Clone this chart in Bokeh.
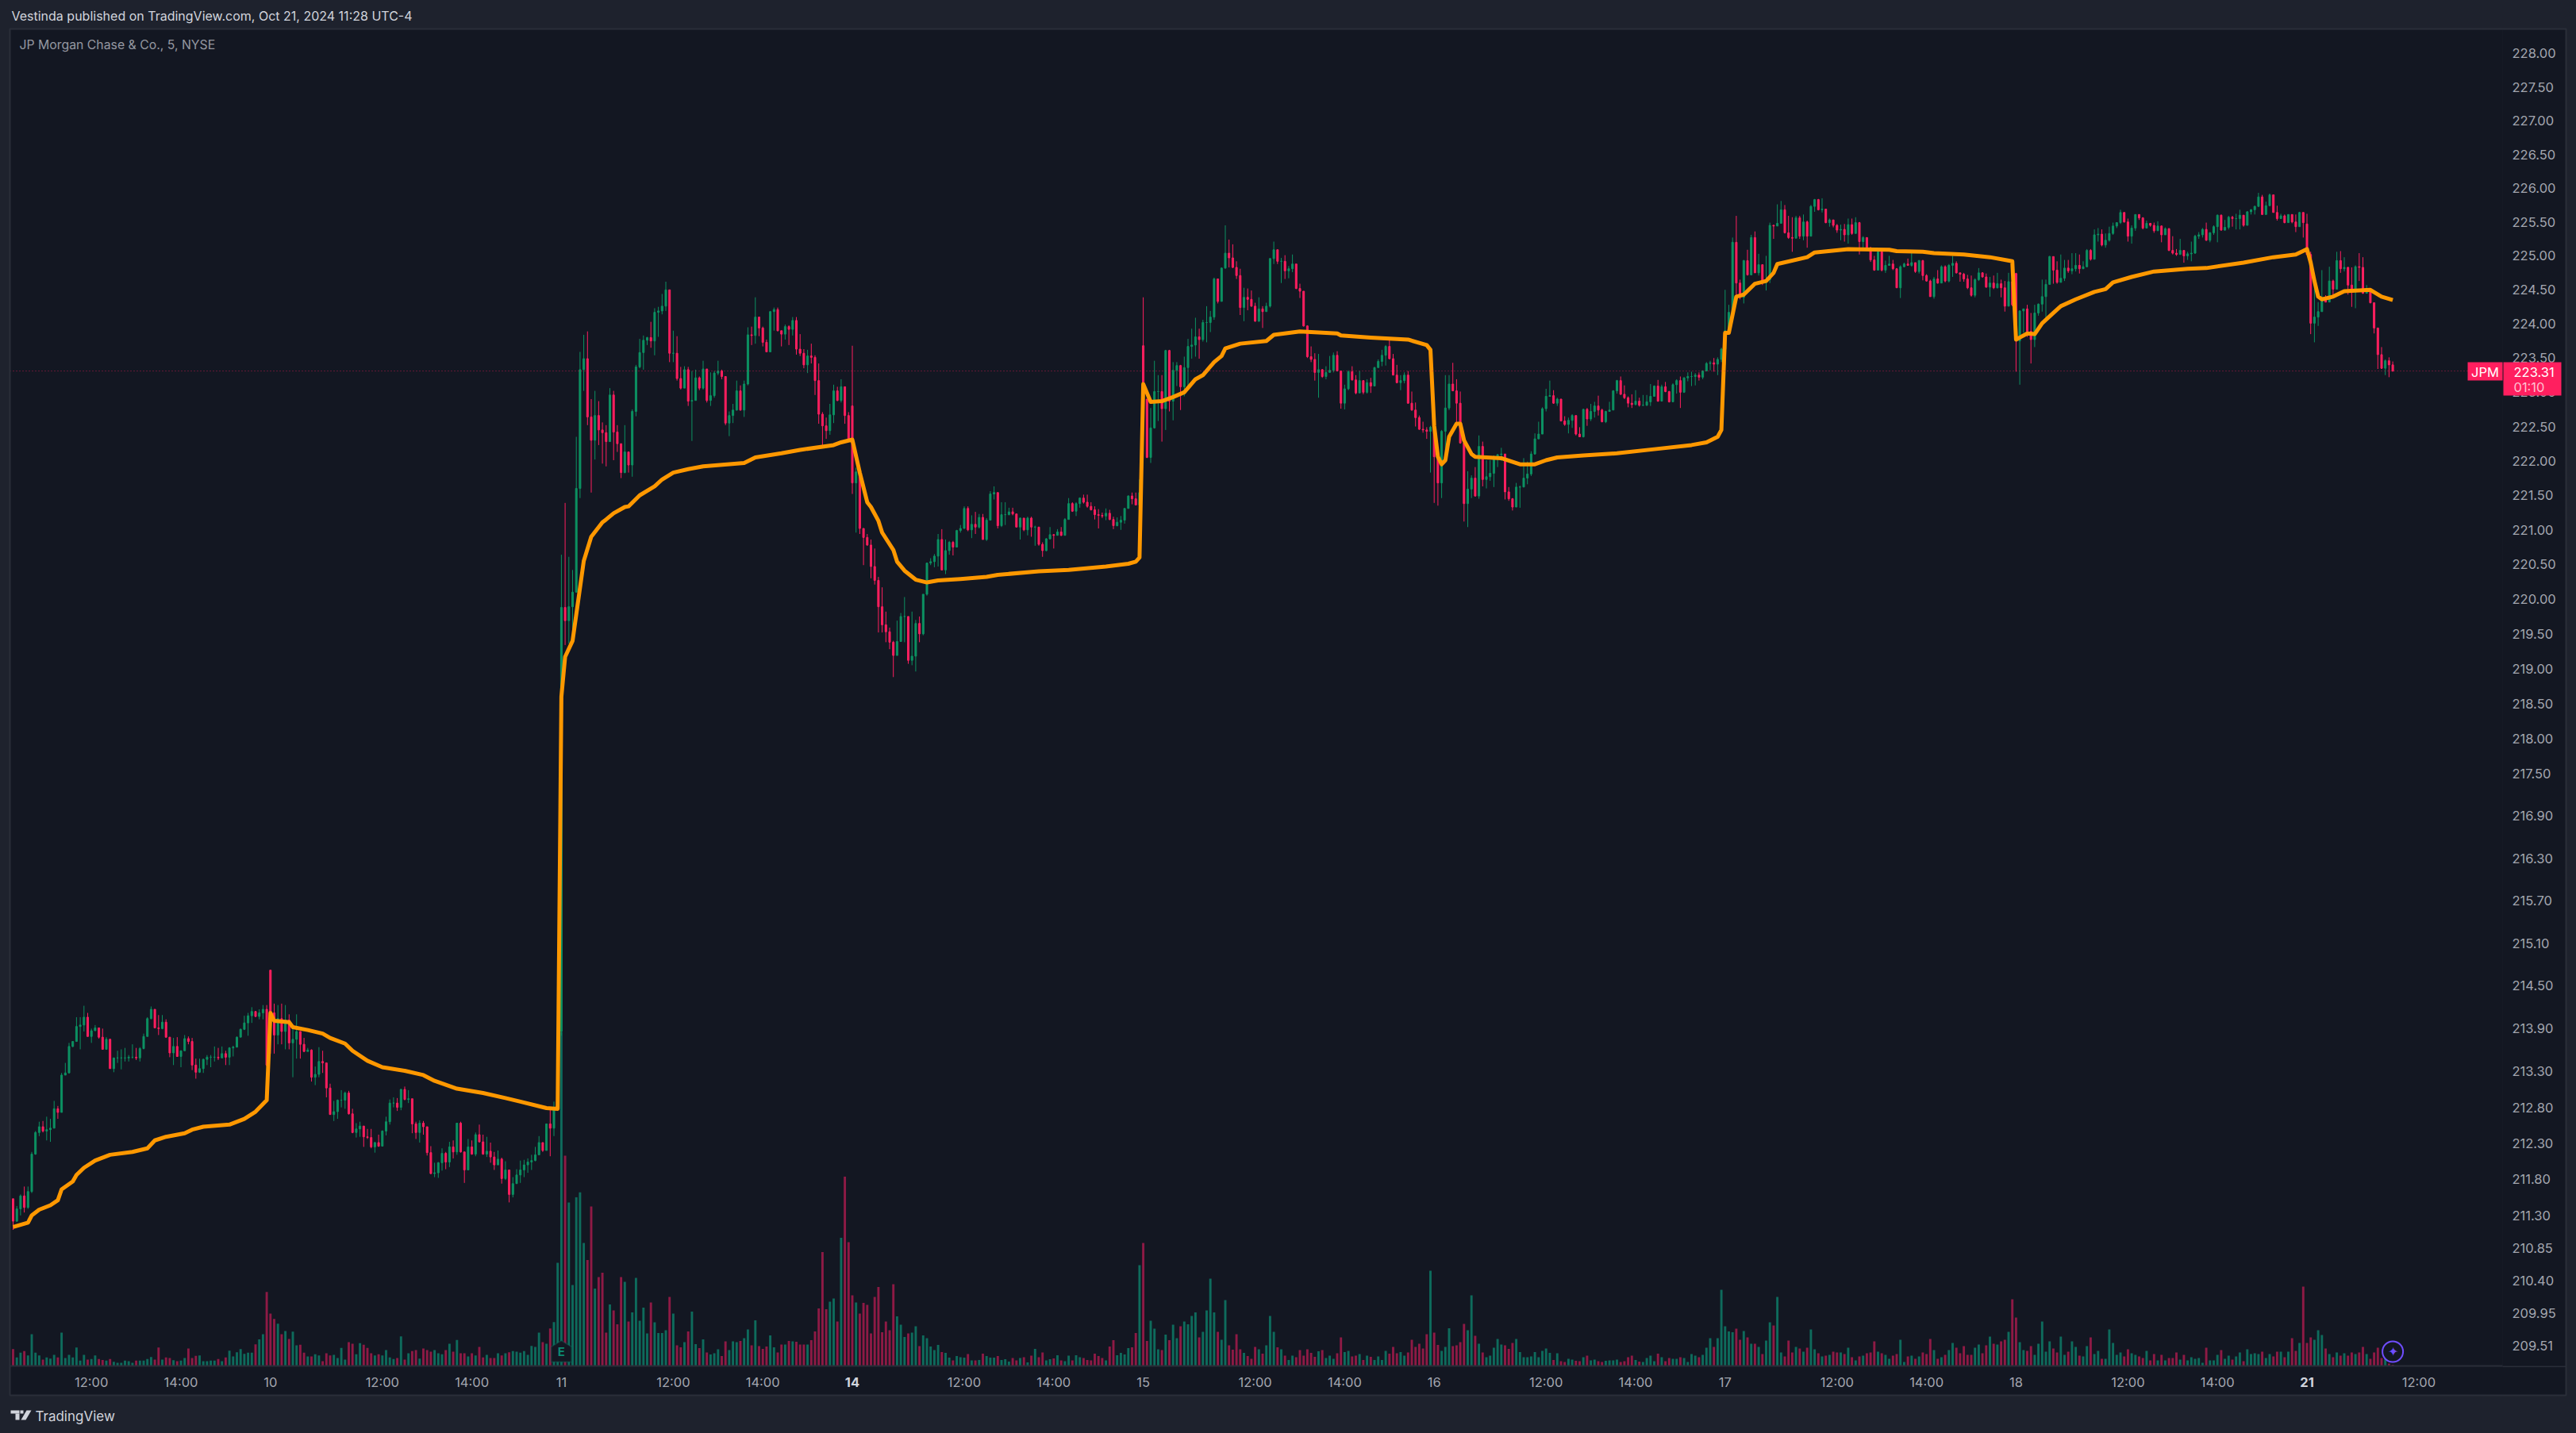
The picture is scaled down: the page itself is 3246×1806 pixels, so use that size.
from bokeh.plotting import figure
from bokeh.models import (Range1d, LinearScale, FixedTicker, PrintfTickFormatter, BoxAnnotation, Label,
                          Span, PolyAnnotation)
from bokeh.embed import file_html
from bokeh.resources import INLINE
import math

# ---- prices, per session (close, high, low) ----
close_oct09 = [211.22,211.39,211.57,211.41,211.63,212.15,212.45,212.53,212.47,212.49,
212.51,212.78,212.73,213.25,213.28,213.65,213.72,213.93,213.95,214.06,
213.79,213.87,213.91,213.78,213.61,213.75,213.34,213.49,213.49,213.49,
213.49,213.50,213.50,213.49,213.62,213.79,214.04,214.17,213.91,213.90,
213.99,213.78,213.56,213.65,213.51,213.59,213.76,213.72,213.39,213.29,
213.34,213.47,213.50,213.50,213.50,213.49,213.55,213.50,213.63,213.64,
213.78,213.89,213.98,214.08,214.14,214.07,214.12,214.17,213.39]
high_oct09 = [211.53,211.43,211.59,211.70,211.70,212.18,212.47,212.60,212.61,212.67,
212.64,212.89,212.82,213.28,213.42,213.70,213.72,214.06,214.06,214.22,
214.12,213.90,213.95,213.91,213.90,213.78,213.76,213.49,213.59,213.61,
213.63,213.53,213.68,213.63,213.64,213.83,214.06,214.21,214.17,214.09,
214.09,214.03,213.75,213.77,213.78,213.59,213.81,213.79,213.77,213.48,
213.48,213.48,213.53,213.53,213.65,213.63,213.65,213.59,213.64,213.66,
213.79,213.90,214.08,214.12,214.20,214.14,214.17,214.23,214.23]
low_oct09 = [211.10,211.21,211.30,211.34,211.39,211.61,212.14,212.40,212.45,212.34,
212.32,212.53,212.64,212.74,213.26,213.28,213.64,213.72,213.61,213.86,
213.79,213.70,213.87,213.76,213.61,213.66,213.34,213.29,213.42,213.33,
213.44,213.44,213.48,213.46,213.44,213.61,213.79,214.03,213.91,213.81,
213.89,213.77,213.50,213.39,213.51,213.36,213.60,213.68,213.32,213.20,
213.28,213.28,213.39,213.36,213.44,213.46,213.50,213.39,213.39,213.51,
213.65,213.78,213.88,213.80,213.98,214.06,214.03,214.03,213.37]
close_oct10 = [214.12,213.81,214.04,213.86,214.02,213.70,213.75,213.86,213.68,213.58,
213.60,213.22,213.26,213.44,213.42,213.07,212.70,212.74,212.90,212.90,
213.00,212.71,212.45,212.50,212.54,212.39,212.38,212.25,212.31,212.26,
212.47,212.60,212.86,212.86,212.80,213.05,212.91,212.92,212.57,212.45,
212.58,212.53,212.17,211.88,211.89,212.03,212.16,212.04,212.25,212.18,
212.58,212.18,211.93,212.25,212.15,212.42,212.32,212.15,212.19,212.11,
212.00,212.08,211.81,211.93,211.59,211.74,211.86,211.93,212.00,212.04,
212.06,212.14,212.31,212.20,212.57,212.51,212.78,212.84]
high_oct10 = [214.72,214.25,214.23,214.25,214.23,214.10,213.95,214.10,213.86,213.77,
213.63,213.61,213.37,213.64,213.59,213.33,213.13,212.89,212.91,213.04,
213.02,213.03,212.78,212.58,212.60,212.51,212.50,212.50,212.32,212.42,
212.48,212.67,212.91,212.94,212.93,213.06,213.09,213.04,212.91,212.60,
212.62,212.61,212.45,212.26,212.03,212.04,212.23,212.18,212.32,212.34,
212.58,212.60,212.18,212.36,212.34,212.45,212.56,212.42,212.39,212.31,
212.18,212.20,212.10,212.05,211.89,211.83,211.94,212.06,212.07,212.09,
212.14,212.25,212.40,212.31,212.57,212.80,212.88,212.99]
low_oct10 = [213.55,213.55,213.68,213.68,213.61,213.61,213.22,213.48,213.48,213.57,
213.59,213.16,213.11,213.22,213.28,212.94,212.70,212.61,212.64,212.80,
212.78,212.70,212.44,212.38,212.39,212.25,212.36,212.23,212.17,212.25,
212.46,212.41,212.56,212.80,212.75,212.76,212.90,212.86,212.44,212.36,
212.31,212.42,212.13,211.87,211.83,211.82,211.92,211.94,211.97,212.09,
212.14,212.17,211.75,212.07,212.14,212.12,212.31,212.14,212.11,212.03,
211.93,212.00,211.74,211.79,211.48,211.55,211.74,211.75,211.83,211.89,
211.93,212.05,212.17,212.18,212.22,212.12,212.40,212.75]
close_oct11 = [219.88,219.69,219.89,220.10,221.60,223.33,223.49,222.64,222.30,222.66,
222.45,222.41,222.28,222.96,222.42,222.25,221.83,222.13,221.94,222.72,
223.37,223.58,223.76,223.80,223.75,224.17,224.19,224.26,224.50,223.57,
223.57,223.20,223.06,223.33,222.87,222.88,223.21,223.06,223.34,222.88,
222.95,223.28,223.31,223.23,222.55,222.66,222.74,223.02,222.74,223.12,
223.84,223.83,224.10,223.94,223.73,223.59,224.18,224.21,223.90,223.85,
223.96,223.92,224.05,223.63,223.57,223.40,223.53,223.51,223.17,222.68,
222.51,222.44,222.67,223.02,222.88,223.08,222.66,222.29]
high_oct11 = [220.64,221.39,220.61,220.42,222.35,223.59,223.84,223.89,222.90,223.02,
222.87,222.56,222.52,223.06,223.02,222.52,222.21,222.52,222.10,222.75,
223.40,223.78,223.83,223.81,224.03,224.23,224.25,224.44,224.62,224.44,
223.90,223.82,223.37,223.38,223.37,223.31,223.33,223.23,223.46,223.33,
223.29,223.31,223.46,223.33,223.23,222.72,222.83,223.17,223.10,223.17,
223.95,223.96,224.39,224.09,223.96,223.77,224.19,224.24,224.24,223.90,
223.99,223.98,224.10,224.10,223.85,223.63,223.62,223.71,223.54,223.42,
222.71,222.63,222.83,223.11,223.08,223.19,223.08,222.71]
low_oct11 = [213.80,219.34,219.36,219.44,220.22,221.46,223.02,222.52,221.54,222.02,
222.23,221.96,221.92,222.33,222.01,222.13,221.75,221.82,221.83,221.77,
222.65,223.35,223.33,223.69,223.65,223.54,223.81,224.14,224.19,223.44,
223.44,223.17,223.04,223.10,222.80,222.29,222.90,223.03,223.04,222.85,
222.80,222.92,223.25,223.19,222.52,222.36,222.55,222.73,222.73,222.64,
223.10,223.69,223.71,223.82,223.67,223.59,223.65,223.90,223.89,223.67,
223.77,223.69,223.83,223.55,223.53,223.35,223.28,223.42,222.96,222.54,
222.21,222.32,222.38,222.55,222.87,222.85,222.54,222.29]
close_oct14 = [221.68,221.84,221.02,220.89,220.78,220.47,220.27,219.89,219.63,219.53,
219.38,219.19,219.39,219.75,219.75,219.12,219.18,219.65,219.50,220.07,
220.52,220.54,220.62,220.86,220.42,220.70,220.82,220.75,220.99,221.02,
221.31,221.00,221.08,221.04,221.18,220.86,221.14,221.52,221.54,221.06,
221.22,221.22,221.26,221.23,221.04,221.17,221.00,221.17,221.04,221.04,
220.79,220.70,220.87,220.93,220.92,220.97,220.92,221.15,221.38,221.27,
221.38,221.46,221.40,221.34,221.29,221.22,221.21,221.20,221.24,221.15,
221.06,221.11,221.14,221.31,221.49,221.45,221.36,221.54]
high_oct14 = [223.68,221.90,221.84,221.02,220.94,220.86,220.73,220.32,220.17,219.82,
219.59,219.40,219.69,219.80,220.03,219.75,219.82,219.70,219.75,220.07,
220.52,220.59,220.65,220.94,221.01,220.86,220.84,220.84,221.00,221.07,
221.34,221.34,221.21,221.26,221.23,221.23,221.17,221.56,221.63,221.54,
221.40,221.40,221.32,221.32,221.23,221.18,221.17,221.19,221.19,221.06,
221.04,220.82,220.88,221.04,220.94,221.01,221.04,221.17,221.46,221.40,
221.40,221.47,221.51,221.51,221.40,221.34,221.30,221.25,221.31,221.29,
221.19,221.18,221.20,221.31,221.50,221.54,221.54,221.73]
low_oct14 = [221.52,220.96,220.94,220.49,220.77,220.30,220.21,219.52,219.52,219.38,
219.28,218.88,219.19,219.44,219.38,219.07,219.05,218.96,219.38,219.48,
220.05,220.49,220.46,220.47,220.42,220.36,220.64,220.63,220.75,220.96,
221.02,220.98,220.88,220.94,221.02,220.86,220.84,221.14,221.44,221.02,
221.04,221.07,221.21,221.21,221.04,220.86,220.98,220.92,220.90,220.77,
220.77,220.61,220.69,220.86,220.73,220.92,220.91,220.96,221.17,221.26,
221.20,221.32,221.38,221.32,221.28,221.15,221.02,221.17,221.14,221.14,
221.01,221.05,221.00,221.09,221.31,221.37,221.36,221.36]
close_oct15 = [222.90,222.05,222.48,223.01,223.01,222.76,223.61,222.87,223.32,223.39,
223.08,223.36,223.67,223.69,223.81,223.77,224.02,224.02,224.10,224.66,
224.33,224.82,225.04,224.97,224.83,224.71,224.24,224.39,224.36,224.26,
224.04,224.22,224.18,224.26,224.96,225.09,224.92,224.92,224.78,224.81,
224.88,224.52,224.48,223.97,223.52,223.48,223.29,223.33,223.23,223.29,
223.32,223.54,223.31,222.84,223.05,223.30,223.18,222.99,223.17,223.00,
223.14,223.09,223.36,223.45,223.54,223.67,223.49,223.25,223.14,223.17,
223.25,222.84,222.74,222.63,222.46,222.45,222.43,222.49]
high_oct15 = [224.39,222.90,222.77,223.46,223.25,223.25,223.62,223.62,223.44,223.44,
223.40,223.52,223.78,223.93,224.09,223.93,224.06,224.26,224.19,224.68,
224.66,224.83,225.45,225.24,225.17,224.92,224.81,224.53,224.52,224.49,
224.31,224.39,224.26,224.31,224.97,225.21,225.09,224.97,225.01,224.85,
225.02,224.82,224.59,224.44,223.98,223.67,223.57,223.56,223.34,223.38,
223.53,223.58,223.60,223.29,223.11,223.32,223.38,223.25,223.31,223.15,
223.19,223.21,223.37,223.48,223.62,223.69,223.78,223.56,223.40,223.25,
223.29,223.31,223.01,222.85,222.66,222.57,222.49,222.51]
low_oct15 = [222.88,222.04,221.97,222.47,222.58,222.28,222.45,222.72,222.59,223.09,
222.74,222.94,223.09,223.49,223.52,223.49,223.74,223.73,223.88,224.06,
224.30,224.39,224.81,224.83,224.82,224.66,224.13,224.04,224.20,224.25,
224.03,224.03,223.94,224.20,224.24,224.88,224.88,224.60,224.66,224.67,
224.76,224.51,224.38,223.96,223.50,223.44,223.17,222.92,223.21,223.19,
223.29,223.29,223.31,222.76,222.75,223.03,223.17,222.97,222.99,222.97,
222.98,222.99,223.12,223.36,223.38,223.39,223.48,223.25,223.13,223.03,
223.13,222.83,222.73,222.50,222.45,222.41,222.32,221.83]
close_oct16 = [222.06,221.68,222.43,222.77,223.12,223.02,222.84,222.26,221.38,221.59,
221.75,221.49,222.21,221.73,221.77,221.82,222.06,222.09,222.10,221.55,
221.45,221.33,221.62,221.62,221.75,221.81,222.10,222.32,222.39,222.76,
222.94,222.95,222.84,222.90,222.58,222.53,222.59,222.66,222.39,222.35,
222.75,222.61,222.72,222.80,222.74,222.57,222.72,222.74,223.02,223.17,
222.97,222.92,222.84,222.82,222.87,222.81,222.81,222.86,222.94,223.09,
222.87,223.08,223.01,222.86,223.11,223.17,223.00,223.21,223.23,223.23,
223.25,223.22,223.31,223.42,223.43,223.41,223.48,223.63]
high_oct16 = [222.51,222.05,222.45,223.25,223.25,223.43,223.19,223.01,222.32,221.85,
221.79,221.91,222.37,222.28,222.01,222.01,222.08,222.10,222.19,222.10,
221.62,221.46,221.68,221.64,222.04,221.99,222.14,222.40,222.57,222.78,
223.05,223.17,223.03,222.92,222.89,222.65,222.63,222.68,222.66,222.49,
222.76,222.77,222.83,222.86,222.95,222.76,222.73,222.86,223.03,223.18,
223.23,223.10,222.94,222.97,223.03,222.92,222.96,222.96,223.12,223.10,
223.18,223.11,223.15,223.02,223.13,223.19,223.23,223.22,223.29,223.30,
223.28,223.29,223.32,223.44,223.46,223.50,223.51,223.65]
low_oct16 = [221.39,221.35,221.46,222.01,222.74,223.02,222.55,222.25,221.12,221.04,
221.46,221.48,221.45,221.63,221.60,221.71,221.62,221.91,222.00,221.44,
221.42,221.28,221.33,221.32,221.62,221.66,221.78,222.09,222.32,222.41,
222.72,222.94,222.83,222.80,222.58,222.51,222.40,222.48,222.37,222.35,
222.34,222.51,222.58,222.63,222.66,222.56,222.55,222.73,222.76,222.98,
222.96,222.90,222.78,222.77,222.81,222.79,222.80,222.80,222.80,222.95,
222.86,222.89,223.00,222.85,222.86,222.98,222.77,222.99,223.16,223.09,
223.10,223.17,223.19,223.32,223.32,223.30,223.25,223.44]
close_oct17 = [223.90,224.17,225.20,224.60,224.39,224.93,224.72,225.27,224.75,224.87,
224.61,224.65,225.45,225.44,225.48,225.68,225.34,225.27,225.26,225.56,
225.29,225.50,225.29,225.73,225.83,225.68,225.69,225.49,225.53,225.45,
225.38,225.39,225.31,225.46,225.33,225.49,225.21,225.27,225.12,224.94,
224.79,225.06,224.79,224.86,224.88,224.81,224.53,224.84,224.88,224.86,
224.90,224.77,224.93,224.71,224.63,224.40,224.66,224.60,224.84,224.63,
224.86,224.89,224.75,224.73,224.66,224.53,224.42,224.65,224.75,224.69,
224.54,224.60,224.53,224.59,224.53,224.26,224.62,224.28]
high_oct17 = [224.50,224.28,225.27,225.59,224.65,224.94,225.09,225.31,225.36,225.03,
224.87,225.00,225.49,225.46,225.76,225.81,225.75,225.59,225.57,225.59,
225.59,225.61,225.52,225.75,225.84,225.84,225.85,225.69,225.55,225.52,
225.47,225.46,225.47,225.55,225.55,225.57,225.50,225.29,225.27,225.13,
225.00,225.08,225.06,224.93,225.00,224.94,224.82,224.86,224.90,224.96,
225.08,224.90,224.94,224.94,224.73,224.65,224.69,224.79,224.86,224.86,
224.88,225.00,224.92,224.75,224.75,224.72,224.71,224.67,224.82,224.76,
224.74,224.69,224.71,224.75,224.65,224.63,224.75,224.65]
low_oct17 = [223.40,223.87,224.17,224.42,224.36,224.30,224.71,224.72,224.75,224.71,
224.57,224.49,224.60,225.25,225.46,225.48,225.33,225.25,225.06,225.33,
225.25,225.23,225.12,225.33,225.65,225.67,225.64,225.48,225.43,225.42,
225.34,225.23,225.21,225.18,225.31,225.33,225.02,225.10,225.11,224.91,
224.78,224.83,224.77,224.75,224.86,224.79,224.53,224.38,224.83,224.86,
224.84,224.75,224.74,224.64,224.62,224.40,224.37,224.59,224.60,224.61,
224.61,224.69,224.74,224.62,224.62,224.51,224.40,224.39,224.63,224.68,
224.53,224.40,224.51,224.52,224.39,224.18,224.26,224.26]
close_oct18 = [223.75,224.19,224.22,223.89,223.77,224.16,224.29,224.40,224.58,224.99,
224.79,224.61,224.67,224.82,224.78,224.81,224.86,224.81,224.84,225.08,
224.95,225.31,225.32,225.16,225.23,225.33,225.44,225.49,225.64,225.50,
225.29,225.41,225.61,225.56,225.41,225.48,225.45,225.37,225.44,225.31,
225.40,225.08,225.04,225.02,225.08,225.00,225.03,225.04,225.29,225.31,
225.39,225.23,225.34,225.43,225.60,225.38,225.42,225.57,225.55,225.55,
225.60,225.45,225.65,225.68,225.73,225.87,225.61,225.74,225.90,225.64,
225.55,225.59,225.49,225.61,225.50,225.43,225.64,225.49]
high_oct18 = [224.75,224.20,224.22,224.28,224.16,224.28,224.30,224.65,224.65,225.00,
224.87,224.92,225.02,224.94,224.94,225.04,225.04,225.02,224.92,225.10,
225.10,225.39,225.41,225.39,225.33,225.43,225.49,225.49,225.68,225.64,
225.55,225.45,225.61,225.61,225.57,225.52,225.48,225.49,225.51,225.45,
225.42,225.41,225.29,225.10,225.25,225.08,225.06,225.21,225.31,225.35,
225.41,225.49,225.35,225.45,225.61,225.61,225.53,225.59,225.59,225.62,
225.68,225.51,225.66,225.69,225.74,225.93,225.90,225.80,225.92,225.90,
225.74,225.62,225.61,225.61,225.61,225.61,225.65,225.64]
low_oct18 = [223.30,223.11,223.87,223.81,223.42,223.66,224.12,224.18,224.08,224.59,
224.59,224.59,224.61,224.63,224.75,224.73,224.77,224.74,224.83,224.83,
224.93,225.08,225.21,225.14,225.12,225.21,225.31,225.41,225.47,225.49,
225.21,225.18,225.37,225.53,225.39,225.43,225.43,225.34,225.39,225.20,
225.35,225.07,225.02,225.00,225.04,224.90,224.94,224.92,225.03,225.25,
225.27,225.22,225.20,225.31,225.20,225.37,225.37,225.39,225.43,225.39,
225.39,225.43,225.45,225.61,225.61,225.72,225.61,225.61,225.74,225.64,
225.52,225.55,225.48,225.49,225.48,225.35,225.43,225.27]
close_oct21 = [225.02,224.01,224.10,224.18,224.36,224.32,224.63,224.51,224.93,224.81,
224.83,224.57,224.47,224.84,224.83,224.45,224.47,224.31,223.94,223.55,
223.35,223.46,223.40,223.31]
high_oct21 = [225.62,225.06,224.65,224.32,224.79,224.42,224.84,224.65,225.06,225.07,
224.98,224.84,224.83,224.86,225.04,224.98,224.57,224.51,224.31,223.94,
223.66,223.48,223.51,223.45]
low_oct21 = [225.02,223.85,223.73,223.97,224.32,224.32,224.33,224.38,224.51,224.75,
224.77,224.43,224.25,224.23,224.63,224.44,224.45,224.30,223.86,223.34,
223.34,223.25,223.22,223.30]
# first print of each session (overnight gap)
session_open = [211.53, 214.72, 213.86, 222.80, 223.68, 222.49, 223.63, 224.74, 225.47]

# ---- volume, thousands of shares, per session ----
vol_oct09 = [106,54,84,94,66,200,84,66,40,54,46,70,54,210,50,70,54,116,34,70,40,44,66,44,38,34,44,26,20,20,
34,30,20,34,34,34,44,56,40,116,40,54,50,36,30,34,50,110,50,64,66,30,30,34,34,44,30,54,96,60,86,106,76,84,84,136,168,200,466]
vol_oct10 = [330,296,266,200,220,170,216,130,134,84,60,60,74,66,30,80,66,70,50,114,40,150,140,74,144,134,114,80,66,74,
66,100,54,44,50,186,40,80,94,100,46,110,100,90,100,80,74,100,140,90,164,80,80,60,80,66,120,54,70,50,
50,80,66,80,86,94,90,84,94,70,126,120,210,150,140,236,276,650]
vol_oct11 = [2105,1325,1030,510,1063,1094,775,668,1005,488,560,588,210,388,350,263,560,530,280,338,555,285,368,205,400,275,208,208,225,435,
330,130,118,150,218,343,138,113,167,85,72,80,105,63,155,100,155,150,158,175,230,130,288,125,108,122,192,117,85,135,
135,158,155,152,135,135,135,163,218,363,718,358,405,425,280,808,1193,780]
vol_oct14 = [445,400,330,397,385,205,435,497,213,280,225,515,313,260,183,205,210,250,125,193,175,122,100,133,88,83,52,35,63,55,
52,75,35,35,38,78,63,52,52,63,38,43,27,50,35,50,55,22,65,108,55,85,35,42,48,68,35,30,65,35,
68,55,50,38,35,78,63,50,35,122,163,68,83,72,113,118,208,635]
vol_oct15 = [775,158,285,235,105,100,198,163,260,175,250,280,263,315,338,180,215,350,550,338,215,165,415,130,102,200,105,83,63,45,
120,105,77,130,315,215,118,105,65,38,65,55,100,65,105,83,58,92,100,50,65,45,80,180,88,95,60,65,75,38,
65,58,38,60,38,95,77,120,80,88,65,85,165,120,140,110,200,600]
vol_oct16 = [210,133,95,120,238,125,130,150,265,225,445,190,140,85,55,65,115,170,135,130,108,145,170,88,55,55,60,88,55,95,
110,83,38,80,30,25,45,40,33,30,55,65,35,40,30,25,33,35,35,40,25,30,55,65,38,27,25,50,65,30,
78,55,30,50,45,45,55,50,25,75,65,55,70,115,175,120,175,480]
vol_oct17 = [250,218,213,235,165,220,180,140,140,120,75,160,275,255,435,85,60,160,85,120,110,90,115,230,105,80,60,65,70,90,
85,85,75,115,55,35,60,65,80,85,155,90,80,70,45,65,75,165,25,60,65,45,60,85,75,170,100,45,55,70,
100,145,115,80,125,70,70,115,135,80,130,185,140,135,155,165,215,420]
vol_oct18 = [305,150,100,95,125,70,140,280,90,155,110,85,185,70,90,155,120,65,60,125,180,75,95,45,45,230,145,70,85,60,
105,80,70,60,50,95,35,75,35,70,35,50,50,85,40,70,35,55,45,50,20,115,35,35,70,100,45,65,40,60,
85,30,105,75,80,75,90,50,75,60,90,90,55,90,175,95,145,500]
vol_oct21 = [145,180,165,225,195,110,75,55,85,65,80,65,85,75,85,120,75,45,85,115,50,100,15,8]

# ---- orange average line: vertices, bar number and price ----
avg_bar = [0,4,5,7,10,12,13,16,17,19,22,26,32,36,38,41,46,48,51,58,62,65,68,69,70,74,75,79,83,85,89,91,95,99,105,110,113,119,126,132,136,143,146,
147,148,150,153,155,158,159,161,164,165,168,172,174,177,181,185,196,199,206,211,220,222,225,227,229,230,232,233,236,237,239,242,245,248,254,261,264,275,283,293,299,301,302,
303,305,308,311,314,317,319,322,324,325,329,336,338,345,355,356,364,374,379,380,381,382,383,384,385,387,388,389,391,392,399,404,408,411,414,421,430,440,450,454,457,458,
459,460,462,464,467,470,472,473,481,483,492,503,505,512,515,523,530,536,537,538,540,542,544,547,549,553,558,561,563,568,574,583,588,598,606,612,615,616,617,618,619,622,625,628,632,635,638]
avg_price = [211.14,211.20,211.30,211.38,211.44,211.51,211.66,211.77,211.86,211.96,212.06,212.14,212.18,212.23,212.34,212.39,212.44,212.49,212.53,212.56,212.64,212.74,212.90,214.12,214.01,213.99,213.92,213.88,213.83,213.77,213.69,213.59,213.45,213.36,213.31,213.25,213.17,213.06,213.00,212.93,212.88,212.79,212.78,
218.60,219.17,219.40,220.55,220.90,221.11,221.15,221.24,221.33,221.34,221.50,221.63,221.73,221.83,221.88,221.92,221.97,222.05,222.11,222.16,222.23,222.27,222.31,221.83,221.40,221.33,221.13,220.96,220.71,220.54,220.41,220.28,220.24,220.27,220.29,220.32,220.35,220.40,220.42,220.47,220.51,220.54,220.60,
223.12,222.86,222.87,222.93,223.00,223.19,223.25,223.44,223.53,223.64,223.71,223.75,223.84,223.89,223.86,223.83,223.80,223.77,223.69,223.62,222.51,222.06,221.95,222.01,222.35,222.54,222.54,222.30,222.10,222.06,222.04,221.95,221.95,222.01,222.05,222.08,222.11,222.17,222.23,222.27,222.35,222.45,
223.87,223.87,224.40,224.43,224.59,224.63,224.75,224.88,224.98,225.05,225.10,225.09,225.07,225.06,225.04,225.02,224.98,224.92,223.77,223.80,223.86,223.85,224.01,224.16,224.26,224.36,224.47,224.51,224.61,224.69,224.77,224.81,224.82,224.90,224.98,225.02,225.10,224.90,224.63,224.40,224.36,224.40,224.48,224.49,224.50,224.40,224.35]

# ---- axis labels ----
price_ticks = [228.00,227.50,227.00,226.50,226.00,225.50,225.00,224.50,224.00,223.50,223.00,222.50,222.00,221.50,221.00,220.50,220.00,
219.50,219.00,218.50,218.00,217.50,216.90,216.30,215.70,215.10,214.50,213.90,213.30,212.80,212.30,211.80,211.30,210.85,210.40,209.95,209.51]
time_bars = [21,45,69,99,123,147,177,201,255,279,303,333,357,381,411,435,459,489,513,537,567,591,645]
time_text = ["12:00","14:00","10","12:00","14:00","11","12:00","14:00","12:00","14:00","15","12:00","14:00","16","12:00","14:00","17","12:00","14:00","18","12:00","14:00","12:00"]
week_bars = [225,615]
week_text = ["14","21"]
last_price = 223.31

closes, highs, lows, opens, vols = [], [], [], [], []
sessions = [(close_oct09,high_oct09,low_oct09,vol_oct09,0),(close_oct10,high_oct10,low_oct10,vol_oct10,69),
            (close_oct11,high_oct11,low_oct11,vol_oct11,147),(close_oct14,high_oct14,low_oct14,vol_oct14,225),
            (close_oct15,high_oct15,low_oct15,vol_oct15,303),(close_oct16,high_oct16,low_oct16,vol_oct16,381),
            (close_oct17,high_oct17,low_oct17,vol_oct17,459),(close_oct18,high_oct18,low_oct18,vol_oct18,537),
            (close_oct21,high_oct21,low_oct21,vol_oct21,615)]
bars = []
for (c,h,l,v,start), so in zip(sessions, session_open):
    n = min(len(c),len(h),len(l),len(v))
    for i in range(n):
        bars.append(start+i)
        opens.append(so if i==0 else c[i-1])
        closes.append(c[i]); highs.append(h[i]); lows.append(l[i]); vols.append(v[i])

UP, DOWN, VUP, VDOWN = "#0c9162", "#ff1f5f", "#0e6b5c", "#8e1a45"
BG, CHROME, BORDER, TXT = "#131722", "#1e222d", "#2a2e39", "#a3a6af"
up = [c >= o for o, c in zip(opens, closes)]
cols = [UP if u else DOWN for u in up]
vcols = [VUP if u else VDOWN for u in up]

PX = 4.70
X0 = 16.0
PANE_L, PANE_T, PANE_R, PANE_B = 12, 36, 3233, 1758
L, R, T, B = 12, 3153, 36, 1721     # plot frame in page pixels
pfun = lambda y: 224.0 * math.exp(-(y - 407.7) / 19250.0)

p = figure(width=PANE_R-PANE_L, height=PANE_B-PANE_T, output_backend="svg", toolbar_location=None,
           x_range=Range1d((L-X0)/PX, (R-X0)/PX), y_range=Range1d(pfun(B), pfun(T)),
           y_axis_type="log", y_axis_location="right",
           min_border_left=0, min_border_right=PANE_R-R, min_border_top=0, min_border_bottom=PANE_B-B,
           background_fill_color=BG, border_fill_color=BG, outline_line_color=None,
           margin=(PANE_T, 0, 1806-PANE_B, PANE_L))
p.grid.visible = False
p.extra_y_ranges = {"vol": Range1d(0, (B-T)*5.0)}
p.extra_y_scales = {"vol": LinearScale()}

p.vbar(x=bars, width=0.62, bottom=0, top=vols, color=vcols, line_width=0, y_range_name="vol")
p.segment(x0=bars, x1=bars, y0=lows, y1=highs, color=cols, line_width=1)
p.vbar(x=bars, width=2.0/PX, bottom=opens, top=closes, fill_color=cols, line_color=cols, line_width=1)
p.line(avg_bar, avg_price, color="#ff9800", line_width=5, line_join="round")
p.add_layout(Span(location=last_price, dimension="width", line_color=DOWN, line_width=1, line_dash="1 3", line_alpha=0.7))

# publish badge
p.scatter([638],[90], marker="circle", size=26, fill_color=BG, line_color="#6f4dff", line_width=2, y_range_name="vol")
p.text([638],[90], text=["\u2726"], text_align="center", text_baseline="middle", text_color="#6f4dff", text_font_size="16px", y_range_name="vol")

axis = p.yaxis[0]
axis.ticker = FixedTicker(ticks=price_ticks)
axis.formatter = PrintfTickFormatter(format="%.2f")
axis.axis_line_color = None
axis.major_tick_line_color = None
axis.minor_tick_line_color = None
axis.major_label_standoff = 6
axis.major_label_text_color = TXT
axis.major_label_text_font = "Inter"
axis.major_label_text_font_size = "16.5px"

xa = p.xaxis[0]
xa.ticker = FixedTicker(ticks=time_bars)
xa.major_label_overrides = dict(zip(time_bars, time_text))
xa.axis_line_color = BORDER
xa.axis_line_width = 2
xa.major_tick_line_color = None
xa.minor_tick_line_color = None
xa.major_label_standoff = 4
xa.major_label_text_color = TXT
xa.major_label_text_font = "Inter"
xa.major_label_text_font_size = "16.5px"

# ---- transparent sheet on top, page-pixel coordinates: texts and tags around the plot ----
ov = figure(width=3246, height=1806, output_backend="svg", toolbar_location=None,
            x_range=Range1d(0, 3246), y_range=Range1d(1806, 0), x_axis_type=None, y_axis_type=None,
            min_border_left=0, min_border_right=0, min_border_top=0, min_border_bottom=0,
            outline_line_color=None, background_fill_alpha=0, border_fill_alpha=0,
            margin=(-1806, 0, 0, 0))
ov.grid.visible = False

def cv(x, y, text, size, color, style="normal", align="left", base="middle", font="Inter"):
    ov.add_layout(Label(x=x, y=y, text=text, text_font=font, text_font_size=f"{size}px",
                        text_color=color, text_font_style=style, text_align=align, text_baseline=base))
def box(l, t, r, b, fill=None, line=None, lw=1):
    ov.add_layout(BoxAnnotation(left=l, right=r, top=t, bottom=b, fill_color=fill, fill_alpha=1 if fill else 0,
                                line_color=line, line_width=lw, line_alpha=1 if line else 0))

box(PANE_L, PANE_T, PANE_R, PANE_B, None, BORDER, 2)
box(R, B, PANE_R, B+1.5, BORDER)
for b, t in zip(week_bars, week_text):
    cv(X0+PX*b, 1741, t, 16.5, "#d1d4dc", style="bold", align="center")

# earnings badge
ex = X0 + PX*147
ov.add_layout(PolyAnnotation(xs=[ex, ex+13, ex+13, ex-13, ex-13], ys=[1689, 1697, 1716, 1716, 1697],
                             fill_color=BG, fill_alpha=1, line_color="#0c7d6b", line_width=2))
cv(ex, 1703, "E", 15, "#0c8a72", style="bold", align="center")

# last price tag
box(3109, 456, 3153, 479, DOWN)
box(3154, 456, 3227, 498, DOWN)
cv(3131, 468, "JPM", 16.5, "#ffffff", align="center")
cv(3167, 468, "223.31", 16.5, "#ffffff")
cv(3167, 487, "01:10", 16.5, "#ffc0d0")

cv(14, 19.5, "Vestinda published on TradingView.com, Oct 21, 2024 11:28 UTC-4", 16, "#d1d4dc")
cv(24, 55.5, "JP Morgan Chase & Co., 5, NYSE", 15.8, "#9598a1")
cv(44, 1784, "TradingView", 17, "#d1d4dc")
# logo
box(13, 1777, 24, 1781, "#d1d4dc")
box(19, 1781, 24, 1789, "#d1d4dc")
ov.add_layout(PolyAnnotation(xs=[25,29,29,25], ys=[1777,1777,1781,1781], fill_color="#d1d4dc", fill_alpha=1, line_color=None))
ov.add_layout(PolyAnnotation(xs=[33,39,32,26], ys=[1777,1777,1789,1789], fill_color="#d1d4dc", fill_alpha=1, line_color=None))

html = file_html([p, ov], INLINE)
html = html.replace("</head>", f"<style>html,body{{background:{CHROME};margin:0;overflow:hidden;}}</style></head>", 1)
open("out.html", "w").write(html)
